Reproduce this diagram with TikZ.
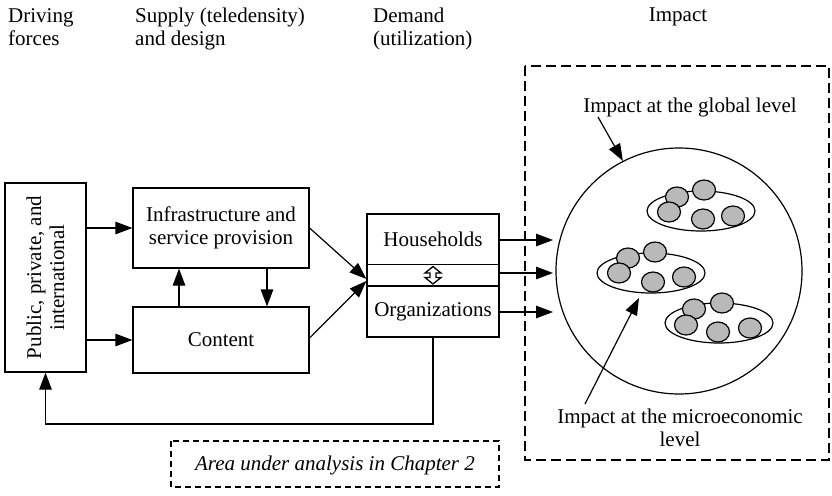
\documentclass[tikz,border=0pt]{standalone}
\usepackage{fontspec}
\setmainfont{Liberation Serif}
\usetikzlibrary{arrows.meta,calc,shapes.geometric}
\begin{document}
\begin{tikzpicture}[x=1pt,y=-1pt,
  every node/.style={font=\fontsize{21}{23}\selectfont, inner sep=0pt},
  box/.style={draw, line width=1.2pt, rectangle},
  arr/.style={line width=1.2pt, -{Triangle[length=17pt,width=12.5pt]}},
  ln/.style={line width=1.2pt},
  dashbig/.style={line width=1.2pt, dash pattern=on 10pt off 5pt},
  dashsmall/.style={line width=1.1pt, dash pattern=on 6pt off 4pt},
  grp/.style={draw, line width=1.2pt},
  dot/.style={draw, line width=1.2pt, fill=gray!55}
]
\useasboundingbox (0,0) rectangle (832,495);

% headers
\node[anchor=north west, align=left] (h1) at (8,8) {Driving\\forces};
\node[anchor=north west, align=left] (h2) at (135,8) {Supply (teledensity)\\and design};
\node[anchor=north west, align=left] (h3) at (373,8) {Demand\\(utilization)};
\node[anchor=north] (h4) at (678,8) {Impact};

% left box
\node[box, minimum width=81pt, minimum height=189pt] (drv) at (45.5,277.5) {};
\node[rotate=90, align=center] (drvt) at (drv.center) {Public, private, and\\international};

% supply boxes
\node[box, minimum width=176pt, minimum height=80pt, align=center] (infra) at (221,228) {Infrastructure and\\service provision};
\node[box, minimum width=176pt, minimum height=66pt] (cont) at (221,340) {Content};

% demand box
\node[box, minimum width=132pt, minimum height=123pt] (dem) at (433,275.5) {};
\draw[ln] (367,264.5) -- (499,264.5);
\draw[ln] (367,286) -- (499,286);
\node (hh) at (433,239) {Households};
\node (org) at (433,312) {Organizations};
\draw[line width=1.3pt] (433,266.5) -- (441,273) -- (436,273) -- (436,277.5) -- (441,277.5) -- (433,284)
  -- (425,277.5) -- (430,277.5) -- (430,273) -- (425,273) -- cycle;

% impact dashed region
\draw[dashbig] (525,66) rectangle (829,460);
\node[anchor=base] (gtext) at (690,112) {Impact at the global level};
\node[draw, circle, line width=1.2pt, minimum size=246pt] (glob) at (679,271) {};

% groups
\node[grp, ellipse, minimum width=108pt, minimum height=40pt] (g1) at (701,211) {};
\node[grp, ellipse, minimum width=108pt, minimum height=40pt] (g2) at (651,273) {};
\node[grp, ellipse, minimum width=108pt, minimum height=40pt] (g3) at (719,323) {};
\foreach \p in {(677,197),(704,190),(669,212),(703,219),(733,216),
                (628,258),(655,252),(619,273),(653,282),(684,277),
                (694,309),(722,303),(686,325),(718,332),(750,328)}
  \draw[dot] \p ellipse (11.5 and 10);

\node[anchor=north, align=center] (mtext) at (680,409) {Impact at the microeconomic\\level};

% area box
\draw[dashsmall] (171,441) rectangle (499,487);
\node[font=\fontsize{21}{23}\selectfont\itshape] (area) at (335,465) {Area under analysis in Chapter 2};

% connectors
\draw[arr] (drv.east |- infra.west) -- (infra.west);
\draw[arr] (drv.east |- cont.west) -- (cont.west);
\draw[arr] ([xshift=-42pt]cont.north) -- ([xshift=-42pt]infra.south);
\draw[arr] ([xshift=46pt]infra.south) -- ([xshift=46pt]cont.north);
\draw[arr] (infra.east) -- ([yshift=-3.5pt]dem.west);
\draw[arr] ([yshift=2pt]cont.east) -- ([yshift=-5.5pt]dem.west);

\coordinate (o1) at (553,240);
\coordinate (o2) at (553,273);
\coordinate (o3) at (553,312);
\draw[arr] (dem.east |- o1) -- (o1);
\draw[arr] (dem.east |- o2) -- (o2);
\draw[arr] (dem.east |- o3) -- (o3);

\coordinate (fb) at (433,424);
\draw[arr] (dem.south) -- (fb) -| (drv.south);

\coordinate (gstart) at (598,117);
\draw[arr] (gstart) -- (glob.117);
\coordinate (mstart) at (585,404);
\coordinate (mend) at (639,298);
\draw[arr] (mstart) -- (mend);
\end{tikzpicture}
\end{document}
